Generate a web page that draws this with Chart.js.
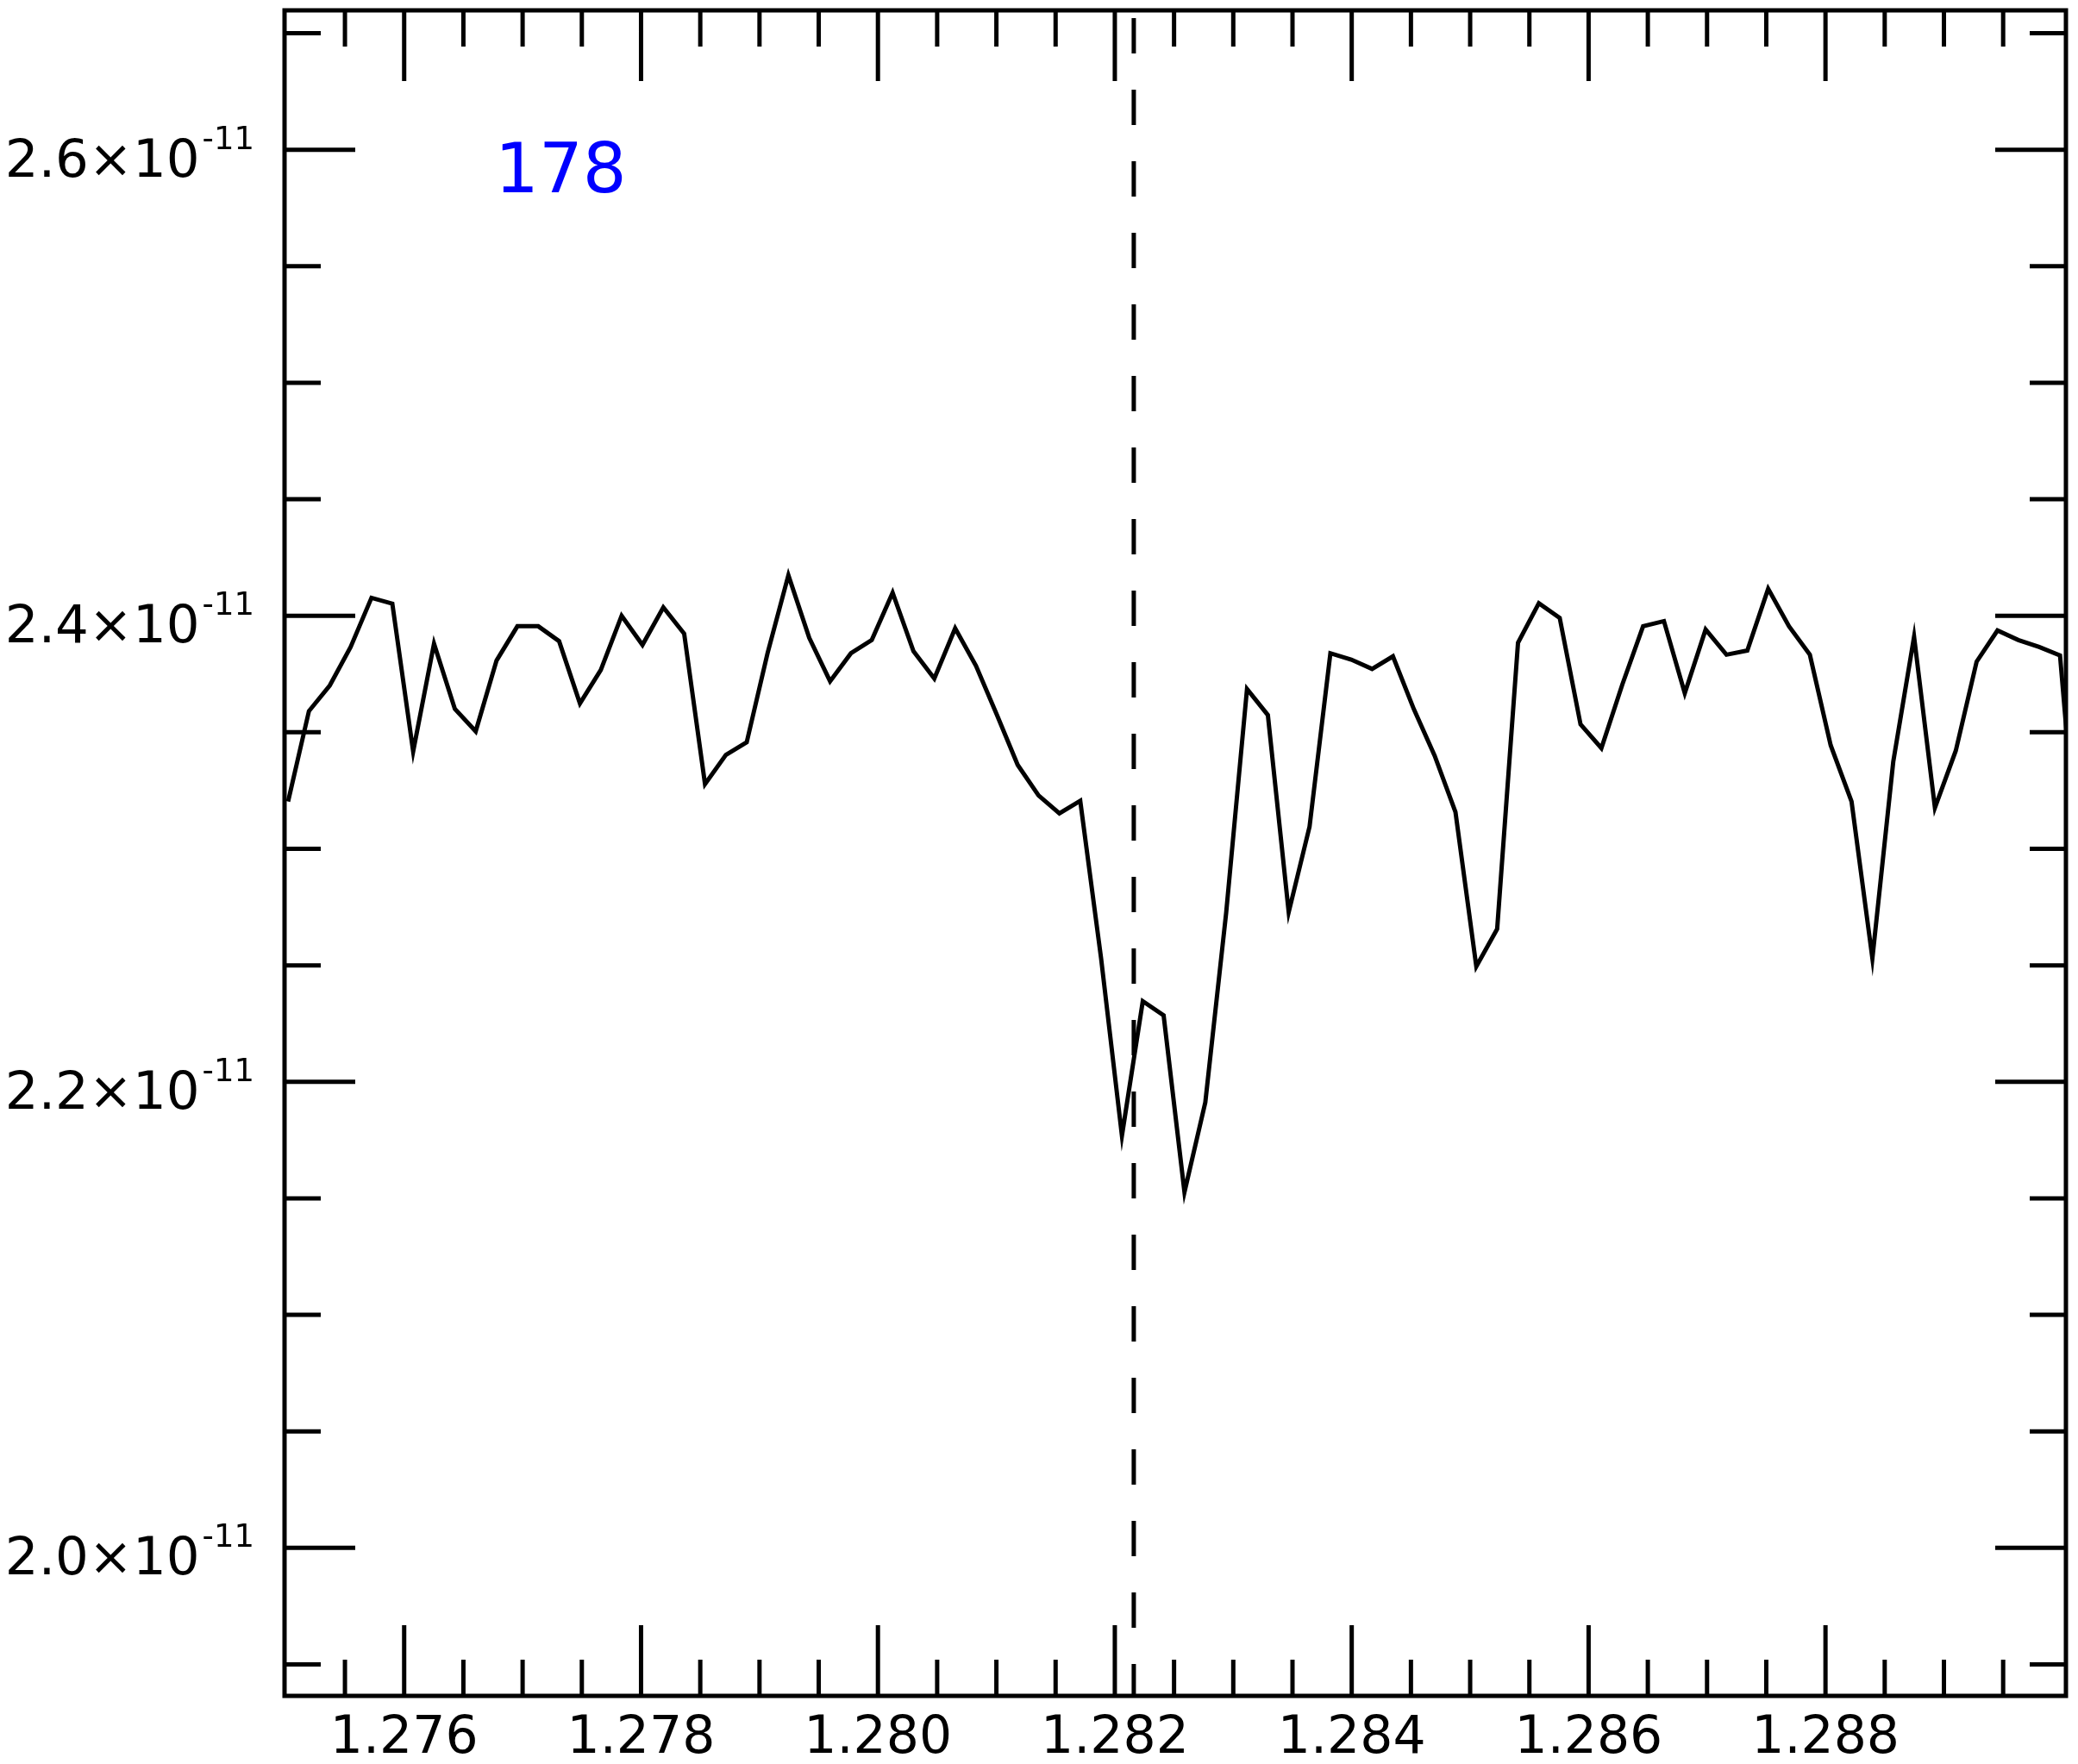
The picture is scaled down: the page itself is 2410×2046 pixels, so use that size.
<!DOCTYPE html>
<html><head><meta charset="utf-8">
<script src="https://cdn.jsdelivr.net/npm/chart.js@4.4.1/dist/chart.umd.min.js"></script>
<style>html,body{margin:0;padding:0;background:#fff;}#wrap{width:2410px;height:2046px;}</style>
</head><body><div id="wrap"><canvas id="c" width="2410" height="2046"></canvas></div>
<script>
// wavelength (x) and flux (y)
const wavelength = [
1.275020,1.275196,1.275372,1.275548,1.275724,1.275900,1.276076,1.276252,1.276428,1.276604,
1.276780,1.276956,1.277132,1.277308,1.277484,1.277660,1.277836,1.278012,1.278188,1.278364,
1.278540,1.278716,1.278892,1.279068,1.279244,1.279420,1.279596,1.279772,1.279948,1.280124,
1.280300,1.280476,1.280652,1.280828,1.281004,1.281180,1.281356,1.281532,1.281708,1.281884,
1.282060,1.282236,1.282412,1.282588,1.282764,1.282940,1.283116,1.283292,1.283468,1.283644,
1.283820,1.283996,1.284172,1.284348,1.284524,1.284700,1.284876,1.285052,1.285228,1.285404,
1.285580,1.285756,1.285932,1.286108,1.286284,1.286460,1.286636,1.286812,1.286988,1.287164,
1.287340,1.287516,1.287692,1.287868,1.288044,1.288220,1.288396,1.288572,1.288748,1.288924,
1.289100,1.289276,1.289452,1.289628,1.289804,1.289980,1.290156];
const flux = [
2.3203e-11,2.3591e-11,2.3701e-11,2.3866e-11,2.4077e-11,2.4052e-11,2.3418e-11,2.3880e-11,2.3600e-11,2.3504e-11,
2.3808e-11,2.3955e-11,2.3955e-11,2.3891e-11,2.3624e-11,2.3767e-11,2.4000e-11,2.3875e-11,2.4036e-11,2.3923e-11,
2.3278e-11,2.3403e-11,2.3457e-11,2.3839e-11,2.4174e-11,2.3905e-11,2.3719e-11,2.3839e-11,2.3896e-11,2.4099e-11,
2.3848e-11,2.3731e-11,2.3946e-11,2.3785e-11,2.3575e-11,2.3360e-11,2.3229e-11,2.3152e-11,2.3206e-11,2.2530e-11,
2.1769e-11,2.2346e-11,2.2285e-11,2.1527e-11,2.1912e-11,2.2725e-11,2.3686e-11,2.3574e-11,2.2728e-11,2.3095e-11,
2.3839e-11,2.3812e-11,2.3772e-11,2.3826e-11,2.3600e-11,2.3400e-11,2.3158e-11,2.2495e-11,2.2656e-11,2.3884e-11,
2.4054e-11,2.3991e-11,2.3534e-11,2.3432e-11,2.3704e-11,2.3955e-11,2.3977e-11,2.3668e-11,2.3941e-11,2.3833e-11,
2.3851e-11,2.4116e-11,2.3955e-11,2.3833e-11,2.3444e-11,2.3203e-11,2.2530e-11,2.3373e-11,2.3910e-11,2.3176e-11,
2.3421e-11,2.3803e-11,2.3937e-11,2.3896e-11,2.3866e-11,2.3830e-11,2.2780e-11];

const xMajorTicks = [1.276,1.278,1.280,1.282,1.284,1.286,1.288];
const xMinorTicks = [1.2755,1.2765,1.2770,1.2775,1.2785,1.2790,1.2795,1.2805,1.2810,1.2815,1.2825,1.2830,1.2835,
  1.2845,1.2850,1.2855,1.2865,1.2870,1.2875,1.2885,1.2890,1.2895];
const yMajorTicks = [2.0e-11,2.2e-11,2.4e-11,2.6e-11];
const yMinorTicks = [1.95e-11,2.05e-11,2.10e-11,2.15e-11,2.25e-11,2.30e-11,2.35e-11,2.45e-11,2.50e-11,2.55e-11,2.65e-11];
const yExponent = '-11';
const markerWavelength = 1.28216;
const panelLabel = '178';
const xRange = [1.27499, 1.29003];
const yRange = [1.9365e-11, 2.6598e-11];

const FONT = '"DejaVu Sans", "Liberation Sans", sans-serif';

const frame = {
  id: 'frame',
  afterDatasetsDraw(chart) {
    const {ctx, chartArea: a, scales: {x, y}} = chart;
    ctx.save();
    ctx.strokeStyle = '#000';
    ctx.lineCap = 'butt';
    // dashed marker
    const xl = x.getPixelForValue(markerWavelength);
    ctx.lineWidth = 5;
    ctx.setLineDash([41, 42]);
    ctx.lineDashOffset = -9;
    ctx.beginPath(); ctx.moveTo(xl, a.top); ctx.lineTo(xl, a.bottom); ctx.stroke();
    ctx.setLineDash([]);
    // ticks (inward, all sides)
    const MAJ = 82, MIN = 42;
    ctx.lineWidth = 5;
    ctx.beginPath();
    const xt = (v, len) => { const p = x.getPixelForValue(v);
      ctx.moveTo(p, a.bottom); ctx.lineTo(p, a.bottom - len);
      ctx.moveTo(p, a.top); ctx.lineTo(p, a.top + len); };
    const yt = (v, len) => { const p = y.getPixelForValue(v);
      ctx.moveTo(a.left, p); ctx.lineTo(a.left + len, p);
      ctx.moveTo(a.right, p); ctx.lineTo(a.right - len, p); };
    xMajorTicks.forEach(v => xt(v, MAJ));
    xMinorTicks.forEach(v => xt(v, MIN));
    yMajorTicks.forEach(v => yt(v, MAJ));
    yMinorTicks.forEach(v => yt(v, MIN));
    ctx.stroke();
    // frame
    ctx.strokeRect(a.left, a.top, a.right - a.left, a.bottom - a.top);
    // y tick labels: mantissa ×10 with superscript exponent
    ctx.fillStyle = '#000';
    ctx.textBaseline = 'alphabetic';
    ctx.textAlign = 'left';
    const rightEdge = a.left - 35;
    yMajorTicks.forEach(v => {
      const p = y.getPixelForValue(v);
      const main = (v * 1e11).toFixed(1) + '×10';
      ctx.font = '37px ' + FONT;
      const ws = ctx.measureText(yExponent).width;
      ctx.font = '61px ' + FONT;
      const wm = ctx.measureText(main).width;
      const xs = rightEdge - ws;
      ctx.fillText(main, xs - 3 - wm, p + 31);
      ctx.font = '37px ' + FONT;
      ctx.fillText(yExponent, xs, p - 1);
    });
    // panel label
    ctx.fillStyle = '#0000ff';
    ctx.font = '80px ' + FONT;
    ctx.fillText(panelLabel, 574, 223);
    ctx.restore();
  }
};

const chart = new Chart(document.getElementById('c'), {
  type: 'line',
  data: {
    datasets: [{
      data: wavelength.map((w, i) => ({x: w, y: flux[i]})),
      borderColor: '#000',
      borderWidth: 5,
      pointRadius: 0,
      tension: 0,
      fill: false,
      clip: 0
    }]
  },
  options: {
    responsive: false,
    animation: false,
    devicePixelRatio: 1,
    events: [],
    layout: {padding: {top: 12, right: 14, left: 0, bottom: 0}},
    plugins: {legend: {display: false}, tooltip: {enabled: false}},
    scales: {
      x: {
        type: 'linear', min: xRange[0], max: xRange[1],
        grid: {display: false, drawTicks: false},
        border: {display: false},
        afterBuildTicks: s => { s.ticks = xMajorTicks.map(v => ({value: v})); },
        afterFit: s => { s.height = 79; s.paddingLeft = 0; s.paddingRight = 0; },
        ticks: {
          color: '#000', font: {family: FONT, size: 60}, padding: 14,
          maxRotation: 0, autoSkip: false,
          callback: v => v.toFixed(3)
        }
      },
      y: {
        type: 'linear', min: yRange[0], max: yRange[1],
        grid: {display: false, drawTicks: false},
        border: {display: false},
        afterBuildTicks: s => { s.ticks = yMajorTicks.map(v => ({value: v})); },
        afterFit: s => { s.width = 330; s.paddingTop = 0; s.paddingBottom = 0; },
        ticks: {
          display: false,
          callback: v => (v * 1e11).toFixed(1) + '×10⁻¹¹'
        }
      }
    }
  },
  plugins: [frame]
});
</script></body></html>
